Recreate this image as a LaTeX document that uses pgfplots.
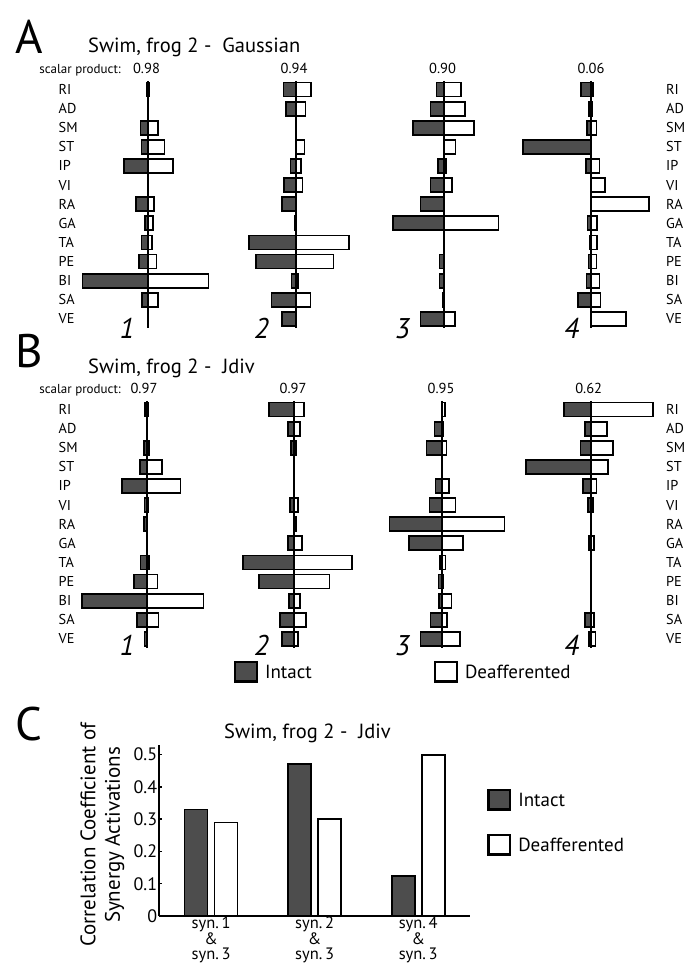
\documentclass[border=0pt]{standalone}
\usepackage{pgfplots}
\pgfplotsset{compat=1.18}
\usepackage{fontspec}
\setmainfont{PT Sans}
\definecolor{intact}{RGB}{77,77,77}
\newcommand\fsz[1]{\fontsize{#1}{#1}\selectfont}
\pgfplotsset{
  musc/.style={scale only axis, width=148pt, height=246.6pt,
    xmin=-74, xmax=74, ymin=-0.45, ymax=12.45, y dir=reverse,
    hide axis, clip=false, anchor=north west},
  intbar/.style={xbar, bar shift=0pt, bar width=0.73, fill=intact, draw=black, line width=1.8pt},
  defbar/.style={xbar, bar shift=0pt, bar width=0.73, fill=white, draw=black, line width=1.8pt},
  cline/.style={black, line width=1.8pt, no marks},
  legax/.style={hide axis, scale only axis, width=1pt, height=1pt,
    xmin=0, xmax=1, ymin=0, ymax=1, anchor=south west,
    legend style={at={(0,0)}, anchor=north west, draw=none, fill=none,
      inner sep=0pt, outer sep=0pt, column sep=7pt,
      nodes={inner sep=0pt, anchor=base west, font=\fsz{19}}},
    legend image code/.code={\draw[##1, line width=2.4pt] (1.2pt,-3pt) rectangle (22.8pt,16.2pt);}},
}
\newcommand\panel[4]{%
\begin{axis}[musc, at={(#1pt,-#2pt)}]
\addplot[intbar] coordinates {#3};
\addplot[defbar] coordinates {#4};
\addplot[cline] coordinates {(0,-0.45) (0,12.45)};
\end{axis}}
\begin{document}
\begin{tikzpicture}
\useasboundingbox (0pt,0pt) rectangle (700pt,-980pt);
% ---------- Panel A ----------
\panel{73.7}{80.9}{(-1,0) (-7.2,2) (-6.2,3) (-23.8,4) (-11.5,6) (-2.5,7) (-6.2,8) (-8.8,9) (-65.2,10) (-5.5,11)}
  {(1.5,0) (10.5,2) (16.8,3) (25.2,4) (6.2,6) (5.5,7) (4.5,8) (8.8,9) (60.8,10) (10.5,11)}
\panel{221.7}{80.9}{(-12.2,0) (-9.5,1) (-5.2,4) (-11.8,5) (-13.5,6) (-0.8,7) (-46.5,8) (-39.8,9) (-4.2,10) (-24.2,11) (-13.5,12)}
  {(15.5,0) (9.8,1) (8.8,3) (5.5,4) (6.8,5) (0.8,7) (53.2,8) (37.8,9) (2,10) (14.8,11)}
\panel{369.7}{80.9}{(-7.2,0) (-13.2,1) (-30.5,2) (-5.5,4) (-13.2,5) (-23.2,6) (-50.5,7) (-4.2,9) (-4.2,10) (-0.8,11) (-23.2,12)}
  {(17.5,0) (21.2,1) (30.2,2) (11.8,3) (2.5,4) (8.5,5) (54.8,7) (0.4,9) (0.8,10) (0.8,11) (11.2,12)}
\panel{517.3}{80.9}{(-10.2,0) (-2.5,1) (-4.2,2) (-68.2,3) (-5.2,4) (-3.8,7) (-1.5,8) (-2.8,9) (-4.8,10) (-13.5,11)}
  {(1.5,0) (0.8,1) (5.2,2) (8.2,4) (13.5,5) (57.5,6) (5.8,7) (5.8,8) (5.2,9) (8.2,10) (9.2,11) (34.8,12)}
% ---------- Panel B ----------
\panel{72.7}{400.9}{(-2,0) (-2.5,2) (-6.8,3) (-24.5,4) (-2.2,5) (-2.8,6) (-6.2,8) (-12.8,9) (-64.8,10) (-9.5,11) (-2.2,12)}
  {(1.5,0) (2.2,2) (15.5,3) (33.8,4) (1.5,5) (0.5,6) (2.2,8) (10.8,9) (56.8,10) (11.8,11) (0.8,12)}
\panel{220.3}{400.9}{(-25.5,0) (-6.5,1) (-3.2,2) (-4.5,5) (-0.8,6) (-6.5,7) (-51.5,8) (-35.5,9) (-5.2,10) (-14.5,11) (-12.2,12)}
  {(9.5,0) (5.5,1) (1.8,2) (3.5,5) (1.8,6) (7.8,7) (57.5,8) (35.2,9) (5.5,10) (11.8,11) (3.5,12)}
\panel{368.3}{400.9}{(-0.8,0) (-7.8,1) (-15.8,2) (-6.8,4) (-12.8,5) (-52.8,6) (-33.2,7) (-2.5,8) (-3.8,9) (-3.5,10) (-11.8,11) (-21.8,12)}
  {(2.8,0) (1.2,1) (4.2,2) (6.5,4) (13.2,5) (62.2,6) (20.5,7) (3.2,8) (1.2,9) (9.2,10) (4.8,11) (17.5,12)}
\panel{516.7}{400.9}{(-26.5,0) (-5.5,1) (-10.2,2) (-64.8,3) (-7.8,4) (-2.8,5) (-1.8,7) (-5.8,11) (-1.5,12)}
  {(62.2,0) (16.2,1) (22.2,2) (17.2,3) (5.8,4) (2.2,5) (3.2,7) (3.2,11) (4.8,12)}
% legends of B
\begin{axis}[legax, at={(234pt,-661pt)}]
\addlegendimage{fill=intact, draw=black}\addlegendentry{Intact}
\end{axis}
\begin{axis}[legax, at={(434pt,-661pt)}]
\addlegendimage{fill=white, draw=black}\addlegendentry{Deafferented}
\end{axis}
% ---------- Panel C ----------
\begin{axis}[at={(159.3pt,-916pt)}, anchor=south west,
  scale only axis, width=310.7pt, height=171pt,
  xmin=-0.5, xmax=2.5, ymin=0, ymax=0.53,
  axis lines*=left, axis line style={-, line width=2pt},
  xtick={0,1,2}, xticklabels={{syn.\,1\\\&\\syn.\,3},{syn.\,2\\\&\\syn.\,3},{syn.\,4\\\&\\syn.\,3}},
  xtick style={draw=none},
  xticklabel style={align=center, font=\fontsize{16.5}{15.5}\selectfont, inner ysep=1pt},
  ytick={0,0.1,0.2,0.3,0.4,0.5}, yticklabels={0,0.1,0.2,0.3,0.4,0.5},
  yticklabel style={font=\fsz{18}, inner xsep=2pt},
  tick align=inside, major tick length=3pt, ytick style={line width=1.5pt, black},
  ylabel={Correlation Coefficient of\\Synergy Activations},
  ylabel style={at={(axis description cs:-0.183,0.474)}, anchor=center, align=center,
    font=\fontsize{21}{24.4}\selectfont},
]
\addplot[ybar, bar width=23pt, bar shift=-15pt, fill=intact, draw=black, line width=1.8pt]
  coordinates {(0,0.33) (1,0.47) (2,0.124)};
\addplot[ybar, bar width=23pt, bar shift=15pt, fill=white, draw=black, line width=1.8pt]
  coordinates {(0,0.29) (1,0.30) (2,0.50)};
\end{axis}
\begin{axis}[legax, at={(487.3pt,-789pt)}]
\addlegendimage{fill=intact, draw=black}\addlegendentry{Intact}
\end{axis}
\begin{axis}[legax, at={(487.3pt,-834pt)}]
\addlegendimage{fill=white, draw=black}\addlegendentry{Deafferented}
\end{axis}
% ---------- texts ----------
\node[anchor=base west, font=\fsz{47}, inner sep=0pt] at (15pt,-53pt) {A};
\node[anchor=base west, font=\fsz{47}, inner sep=0pt] at (15pt,-367pt) {B};
\node[anchor=base west, font=\fsz{47}, inner sep=0pt] at (15pt,-740pt) {C};
\node[anchor=base west, font=\fsz{20.5}, inner sep=0pt] at (88pt,-52.7pt) {Swim, frog 2 -\ \ Gaussian};
\node[anchor=base west, font=\fsz{20.5}, inner sep=0pt] at (88pt,-373.3pt) {Swim, frog 2 -\ \ Jdiv};
\node[anchor=base west, font=\fsz{20.5}, inner sep=0pt] at (224pt,-738pt) {Swim, frog 2 -\ \ Jdiv};
\node[anchor=base east, font=\fsz{13}, inner sep=0pt] at (121pt,-73pt) {scalar product:};
\node[anchor=base east, font=\fsz{13}, inner sep=0pt] at (121pt,-393.3pt) {scalar product:};
\foreach \v/\x in {0.98/146.5, 0.94/294, 0.90/442.5, 0.06/591}
  \node[anchor=base, font=\fsz{14.5}, inner sep=0pt] at (\x pt,-73pt) {\v};
\foreach \v/\x in {0.97/144, 0.97/293, 0.95/441, 0.62/588.7}
  \node[anchor=base, font=\fsz{14.5}, inner sep=0pt] at (\x pt,-393.3pt) {\v};
\foreach \n/\x in {1/127, 2/261.5, 3/402.5, 4/571.5} {
  \node[anchor=base, font=\itshape\fsz{28.5}, inner sep=0pt] at (\x pt,-338pt) {\n};
  \node[anchor=base, font=\itshape\fsz{28.5}, inner sep=0pt] at (\x pt,-655pt) {\n};
}
\foreach \m [count=\i from 0] in {RI,AD,SM,ST,IP,VI,RA,GA,TA,PE,BI,SA,VE} {
  \node[anchor=base west, font=\fsz{14.3}, inner sep=0pt] at (58.5pt, {-(94.5+19.12*\i)*1pt}) {\m};
  \node[anchor=base west, font=\fsz{14.3}, inner sep=0pt] at (666pt, {-(94.5+19.12*\i)*1pt}) {\m};
  \node[anchor=base west, font=\fsz{14.3}, inner sep=0pt] at (58.5pt, {-(414.5+19.12*\i)*1pt}) {\m};
  \node[anchor=base west, font=\fsz{14.3}, inner sep=0pt] at (666pt, {-(414.5+19.12*\i)*1pt}) {\m};
}
\end{tikzpicture}
\end{document}
